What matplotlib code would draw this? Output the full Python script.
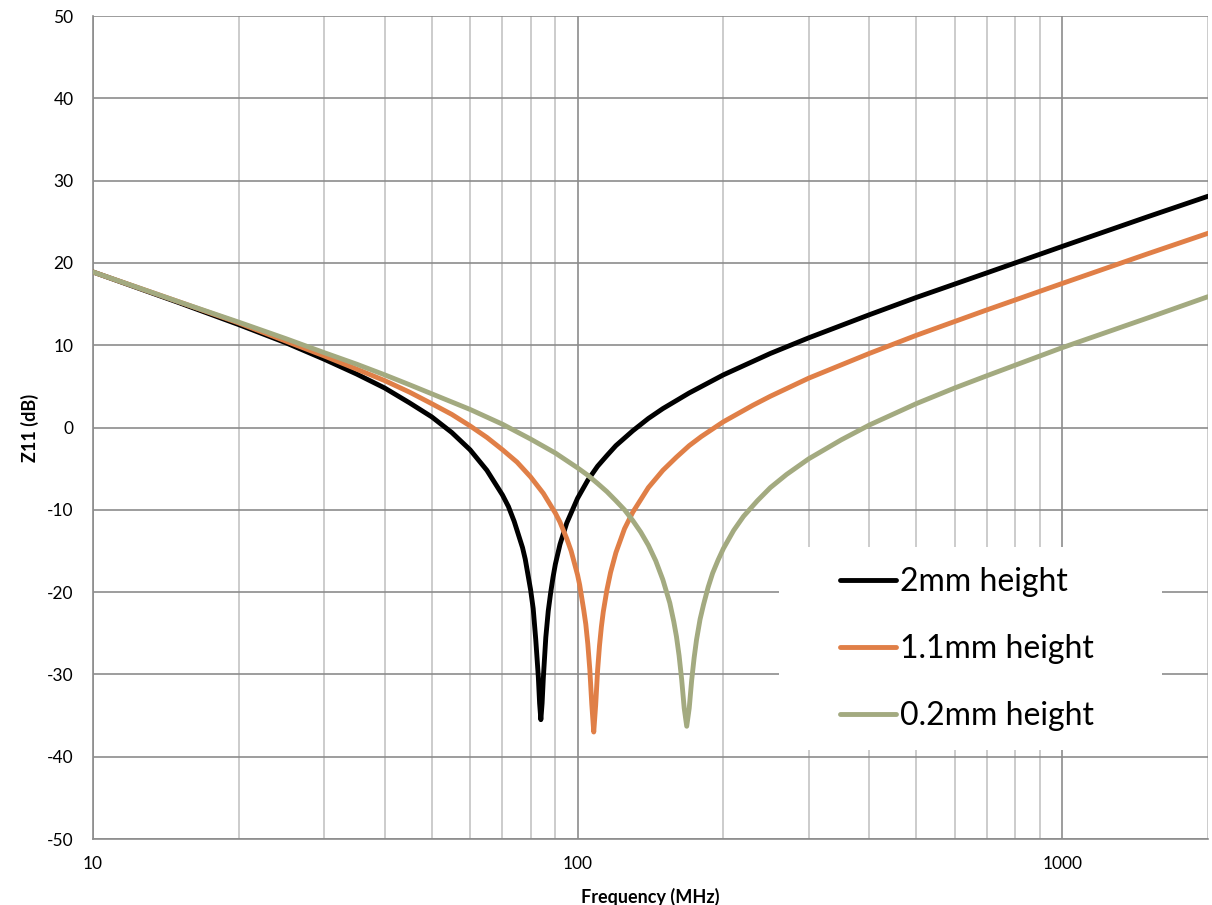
import numpy as np
import matplotlib.pyplot as plt
from matplotlib.patches import Rectangle
from matplotlib.ticker import FixedLocator, NullFormatter

plt.rcParams['font.family'] = ['Lato', 'DejaVu Sans']
plt.rcParams['axes.unicode_minus'] = False

# Z11 magnitude vs frequency for three substrate heights
freq_2mm = [10, 15, 20, 25, 30, 35, 40, 45, 50, 55, 60, 65, 70, 72, 74, 77, 78,
            80, 81, 82, 83, 83.5, 84, 84.5, 85, 86, 87, 88, 89, 90, 92, 95, 100,
            105, 110, 115, 120, 130, 140, 150, 170, 200, 250, 300, 400, 500,
            700, 1000, 1500, 2000]
z11_2mm = [18.9, 15.2, 12.5, 10.3, 8.3, 6.5, 4.8, 3.0, 1.3, -0.6, -2.7, -5.2,
           -8.2, -9.6, -11.4, -14.6, -16.0, -19.7, -22.0, -25.8, -30.3, -33.5,
           -35.5, -33.5, -30.4, -25.5, -22.3, -20.1, -18.2, -16.6, -14.2, -11.6,
           -8.6, -6.4, -4.7, -3.4, -2.2, -0.4, 1.1, 2.3, 4.2, 6.4, 9.0, 10.9,
           13.7, 15.8, 18.8, 22.0, 25.6, 28.1]

freq_1p1mm = [10, 15, 20, 25, 30, 35, 40, 45, 50, 55, 60, 65, 70, 75, 80, 85,
              90, 92, 95, 97, 100, 101, 103, 104, 105, 106, 107, 108, 109, 110,
              111, 112, 113, 115, 117, 120, 125, 130, 140, 150, 160, 170, 180,
              200, 230, 250, 300, 400, 500, 700, 1000, 1500, 2000]
z11_1p1mm = [18.9, 15.3, 12.7, 10.5, 8.7, 7.1, 5.7, 4.3, 2.9, 1.6, 0.2, -1.2,
             -2.7, -4.2, -6.0, -8.0, -10.4, -11.5, -13.5, -15.0, -17.9, -19.1,
             -22.2, -23.9, -26.3, -29.4, -33.6, -37.0, -33.7, -29.5, -26.5,
             -24.2, -22.4, -19.7, -17.6, -15.2, -12.3, -10.3, -7.3, -5.2, -3.6,
             -2.2, -1.1, 0.7, 2.7, 3.8, 6.0, 9.0, 11.2, 14.3, 17.5, 21.1, 23.6]

freq_0p2mm = [10, 15, 20, 25, 30, 35, 40, 45, 50, 60, 70, 80, 90, 100, 105,
              110, 115, 120, 125, 130, 135, 140, 145, 150, 155, 158, 160, 162,
              164, 166, 168, 170, 172, 174, 176, 179, 182, 186, 190, 195, 200,
              210, 220, 235, 250, 270, 300, 350, 400, 500, 600, 700, 1000, 1500,
              2000]
z11_0p2mm = [18.9, 15.3, 12.8, 10.8, 9.1, 7.7, 6.4, 5.2, 4.1, 2.2, 0.4, -1.4,
             -3.1, -4.9, -5.8, -6.8, -7.8, -8.9, -10.0, -11.3, -12.7, -14.3,
             -16.2, -18.5, -21.3, -23.6, -25.4, -27.7, -30.6, -34.1, -36.3,
             -34.1, -30.7, -28.0, -25.8, -23.3, -21.5, -19.4, -17.7, -16.1,
             -14.7, -12.5, -10.8, -8.9, -7.3, -5.7, -3.8, -1.5, 0.3, 2.9, 4.8,
             6.3, 9.7, 13.3, 15.9]

series = [
    (freq_2mm, z11_2mm, '2mm height', '#000000'),
    (freq_1p1mm, z11_1p1mm, '1.1mm height', '#E07F47'),
    (freq_0p2mm, z11_0p2mm, '0.2mm height', '#A3AA80'),
]

fig = plt.figure(figsize=(12.12, 9.05), dpi=100)
ax = fig.add_axes([0.0767, 0.0729, 0.92, 0.9094])

for f, z, lab, c in series:
    ax.plot(f, z, color=c, lw=3.5, label=lab, solid_capstyle='round',
            solid_joinstyle='round', zorder=3)

ax.set_xscale('log')
ax.set_xlim(10, 2000)
ax.set_ylim(-50, 50)
ax.set_yticks(np.arange(-50, 51, 10))
ax.set_xticks([10, 100, 1000])
ax.set_xticklabels(['10', '100', '1000'])
minor = [m * d for d in (10, 100, 1000) for m in range(2, 10) if m * d <= 2000]
ax.xaxis.set_minor_locator(FixedLocator(minor))
ax.xaxis.set_minor_formatter(NullFormatter())

ax.grid(which='major', color='#8c8c8c', lw=1.2)
ax.grid(which='minor', axis='x', color='#c4c4c4', lw=1.2)
ax.set_axisbelow(True)

for s in ('top', 'right'):
    ax.spines[s].set_visible(False)
for s in ('left', 'bottom'):
    ax.spines[s].set_color('#8c8c8c')
    ax.spines[s].set_linewidth(1.2)

ax.tick_params(which='both', length=0)
ax.tick_params(axis='y', labelsize=12.5, pad=14)
ax.tick_params(axis='x', labelsize=12.5, pad=12)

ax.set_xlabel('Frequency (MHz)', fontsize=13, fontweight='bold', labelpad=12)
ax.set_ylabel('Z11 (dB)', fontsize=13, fontweight='bold', labelpad=6)

# white panel behind the legend entries
ax.add_patch(Rectangle((0.6152, 0.1081), 0.3435, 0.2467, transform=ax.transAxes,
                       facecolor='white', edgecolor='none', zorder=1))

ax.legend(loc='center left', bbox_to_anchor=(0.670, 0.2309), fontsize=23,
          frameon=False, handlelength=1.75, handletextpad=0.12,
          labelspacing=1.15, borderpad=0, borderaxespad=0)

fig.savefig('out.png', dpi=100)
